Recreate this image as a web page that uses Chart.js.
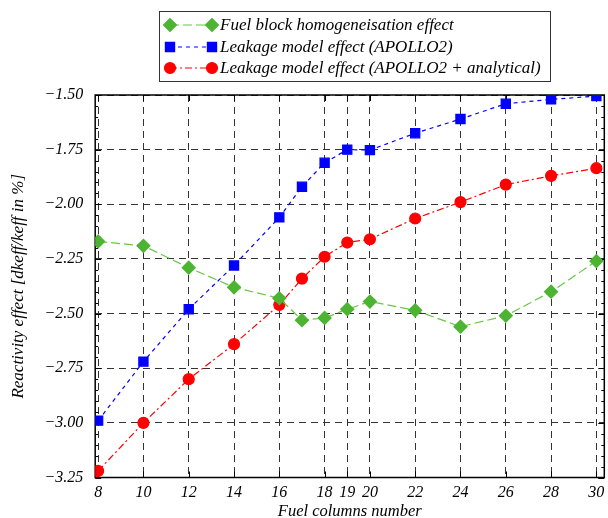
<!DOCTYPE html>
<html>
<head>
<meta charset="utf-8">
<script src="https://cdn.jsdelivr.net/npm/chart.js@4"></script>
<style>
  html, body { margin: 0; background: #fff; overflow: hidden; }
  #wrap { width: 608px; height: 518px; overflow: hidden; }
</style>
</head>
<body>
<div id="wrap"><canvas id="mychart" width="612" height="525"></canvas></div>
<script>
// data
var columns = [8, 10, 12, 14, 16, 17, 18, 19, 20, 22, 24, 26, 28, 30];
var xTicks = [8, 10, 12, 14, 16, 18, 19, 20, 22, 24, 26, 28, 30];
var homogen = [-2.17, -2.19, -2.29, -2.38, -2.43, -2.53, -2.52, -2.48, -2.445, -2.485, -2.56, -2.51, -2.40, -2.26];
var apollo = [-2.99, -2.72, -2.48, -2.28, -2.06, -1.92, -1.81, -1.75, -1.752, -1.675, -1.61, -1.54, -1.52, -1.505];
var apolloAna = [-3.22, -3.00, -2.80, -2.64, -2.46, -2.34, -2.24, -2.175, -2.16, -2.065, -1.99, -1.91, -1.87, -1.835];
var labels = ["Fuel block homogeneisation effect", "Leakage model effect (APOLLO2)", "Leakage model effect (APOLLO2 + analytical)"];

var font = "'Liberation Serif', 'Times New Roman', serif";

function pts(vals) {
  return columns.map(function(c, i) { return {x: c, y: vals[i]}; });
}

// frame + inward tick marks
var framePlugin = {
  id: 'frame',
  beforeDatasetsDraw: function(chart) {
    var a = chart.chartArea, ctx = chart.ctx;
    var xs = chart.scales.x, ys = chart.scales.y;
    ctx.save();
    ctx.strokeStyle = '#000';
    ctx.lineWidth = 1;
    ctx.beginPath();
    // y ticks, minor every 0.05
    for (var v = -3.25; v <= -1.4999; v += 0.05) {
      var py = Math.round(ys.getPixelForValue(v)) + 0.5;
      var major = Math.abs(v / 0.25 - Math.round(v / 0.25)) < 0.01;
      var len = major ? 6 : 3;
      ctx.moveTo(a.left, py); ctx.lineTo(a.left + len, py);
      ctx.moveTo(a.right, py); ctx.lineTo(a.right - len, py);
    }
    xTicks.forEach(function(t) {
      var px = Math.round(xs.getPixelForValue(t)) + 0.5;
      ctx.moveTo(px, a.bottom); ctx.lineTo(px, a.bottom - 6);
      ctx.moveTo(px, a.top); ctx.lineTo(px, a.top + 6);
    });
    ctx.stroke();
    ctx.lineWidth = 1.5;
    ctx.strokeRect(a.left, a.top, a.right - a.left, a.bottom - a.top);
    ctx.restore();
  }
};

// boxed legend with marker - line - marker samples
var legendPlugin = {
  id: 'boxLegend',
  afterDraw: function(chart) {
    var ctx = chart.ctx;
    ctx.save();
    ctx.strokeStyle = '#333';
    ctx.lineWidth = 1;
    ctx.strokeRect(159.5, 11.5, 391, 70);
    var rows = [25, 47, 68];
    chart.data.datasets.forEach(function(ds, i) {
      var y = rows[i];
      ctx.strokeStyle = ds.borderColor;
      ctx.lineWidth = 1.2;
      ctx.setLineDash(ds.borderDash);
      ctx.beginPath(); ctx.moveTo(170, y); ctx.lineTo(212, y); ctx.stroke();
      ctx.setLineDash([]);
      ctx.fillStyle = ds.pointBackgroundColor;
      ctx.strokeStyle = ds.pointBorderColor;
      [170, 212].forEach(function(x) {
        Chart.helpers.drawPoint(ctx, {pointStyle: ds.pointStyle, radius: ds.pointRadius, rotation: 0, borderWidth: 1}, x, y);
      });
      ctx.fillStyle = '#000';
      ctx.font = "italic 17px 'Liberation Serif'";
      ctx.textBaseline = 'middle';
      ctx.fillText(ds.label, 220, y + 1);
    });
    ctx.restore();
  }
};

var mychart = document.getElementById('mychart').getContext('2d');
var chart = new Chart(mychart, {
  type: 'line',
  data: {
    datasets: [
      {
        label: labels[0],
        data: pts(homogen),
        borderColor: '#66c844',
        backgroundColor: '#4db432',
        pointBackgroundColor: '#4db432',
        pointBorderColor: '#4db432',
        borderWidth: 1.2,
        borderDash: [9, 4],
        pointStyle: 'rectRot',
        pointRadius: 6.5
      },
      {
        label: labels[1],
        data: pts(apollo),
        borderColor: '#0000ff',
        backgroundColor: '#0000ff',
        pointBackgroundColor: '#0000ff',
        pointBorderColor: '#0000ff',
        borderWidth: 1.2,
        borderDash: [4, 4],
        pointStyle: 'rect',
        pointRadius: 6.5
      },
      {
        label: labels[2],
        data: pts(apolloAna),
        borderColor: '#ff0000',
        backgroundColor: '#ff0000',
        pointBackgroundColor: '#ff0000',
        pointBorderColor: '#ff0000',
        borderWidth: 1.2,
        borderDash: [7, 3, 2, 3],
        pointStyle: 'circle',
        pointRadius: 5.5
      }
    ]
  },
  options: {
    responsive: false,
    animation: false,
    layout: { padding: { top: 95, right: 0, left: 8, bottom: 5 } },
    plugins: { legend: { display: false }, tooltip: { enabled: false } },
    scales: {
      x: {
        type: 'linear',
        min: 7.87,
        max: 30.35,
        afterBuildTicks: function(axis) {
          axis.ticks = xTicks.map(function(v) { return {value: v}; });
        },
        ticks: {
          color: '#000',
          font: { family: font, size: 16, style: 'italic', lineHeight: 1.0 },
          padding: 7,
          maxRotation: 0,
          autoSkip: false,
          callback: function(v) { return String(v); }
        },
        grid: { color: '#333', lineWidth: 1, drawTicks: false },
        border: { display: false, dash: [7, 5] },
        title: {
          display: true,
          text: 'Fuel columns number',
          color: '#000',
          font: { family: font, size: 16.5, style: 'italic', lineHeight: 1.0 },
          padding: { top: -4, bottom: 0 }
        }
      },
      y: {
        min: -3.25,
        max: -1.5,
        ticks: {
          stepSize: 0.25,
          color: '#000',
          font: { family: font, size: 16, style: 'italic' },
          padding: 12,
          callback: function(v) { return '\u2212' + Math.abs(v).toFixed(2); }
        },
        grid: { color: '#333', lineWidth: 1, drawTicks: false },
        border: { display: false, dash: [7, 5] },
        title: {
          display: true,
          text: 'Reactivity effect [dkeff/keff in %]',
          color: '#000',
          font: { family: font, size: 17, style: 'italic' },
          padding: { top: 0, bottom: 4 }
        }
      }
    }
  },
  plugins: [framePlugin, legendPlugin]
});
</script>
</body>
</html>
